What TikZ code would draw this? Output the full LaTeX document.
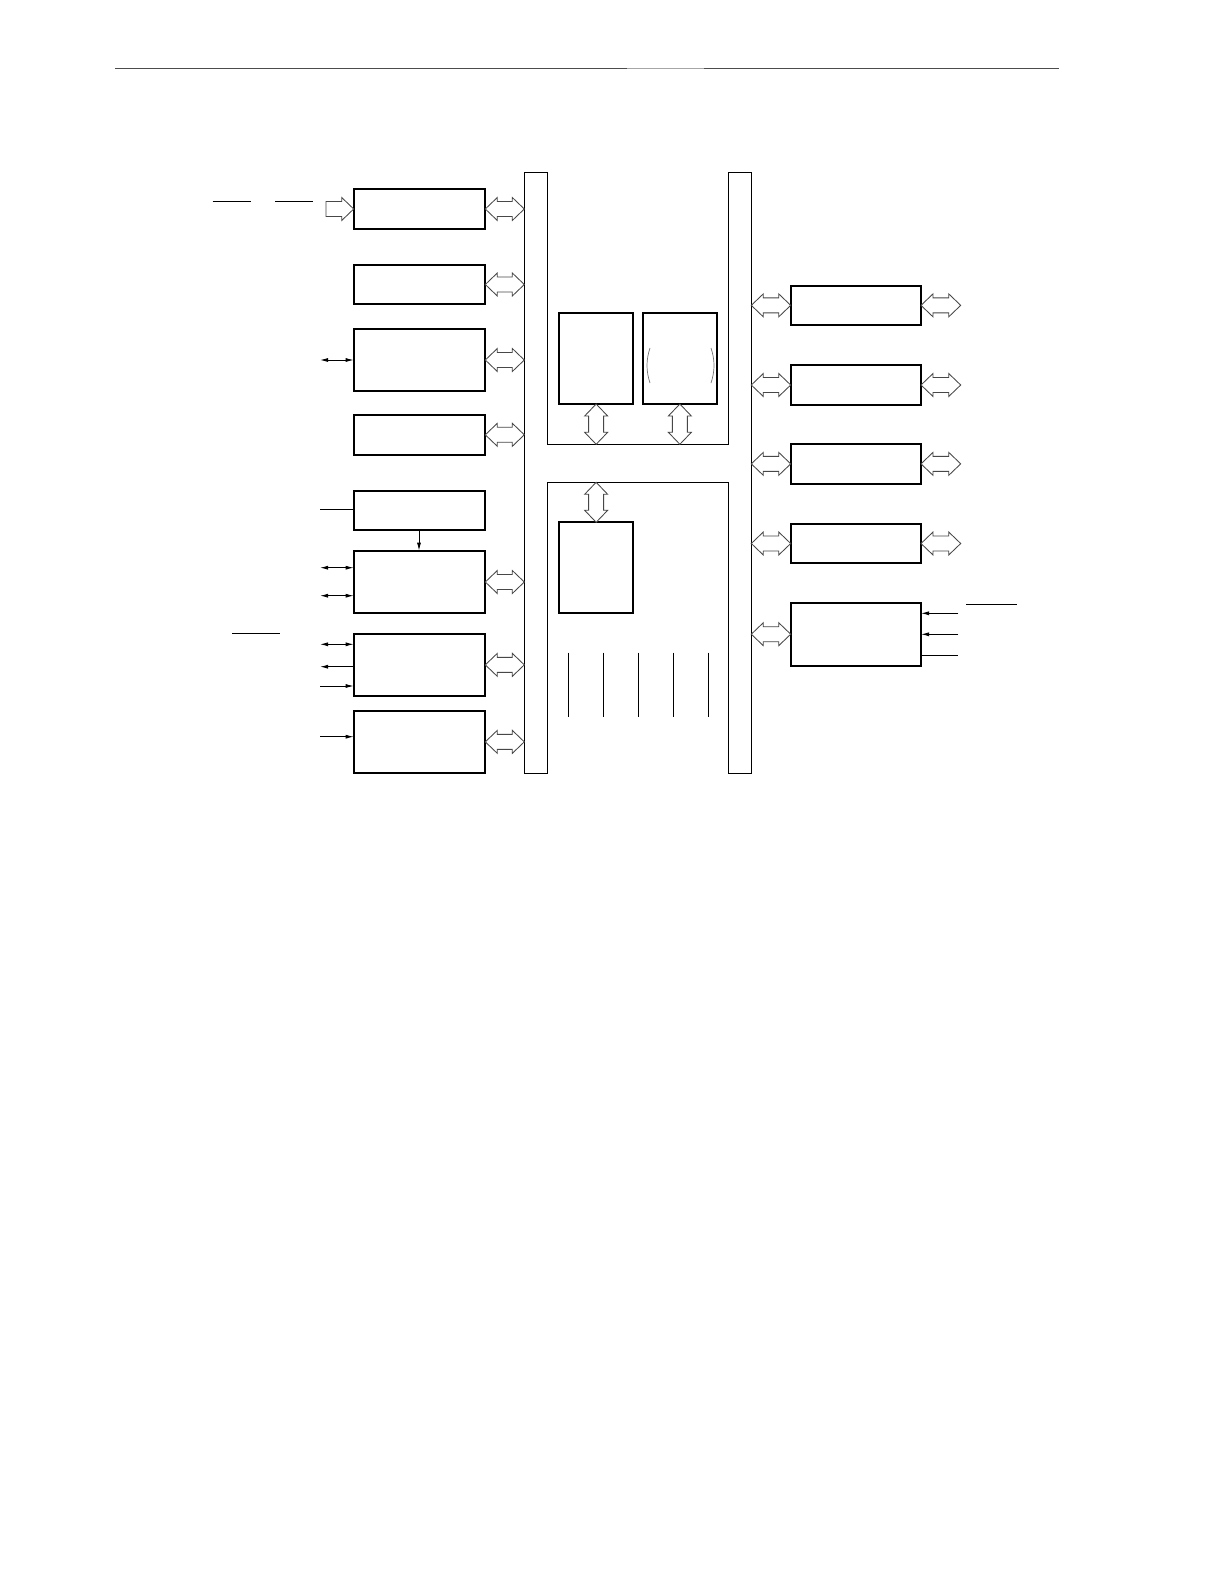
\documentclass[tikz,border=0pt]{standalone}
\usetikzlibrary{calc,arrows.meta}
\newcommand\hdbl[2]{\draw[barrow] let \p1=#1, \p2=#2 in
 (\x1,\y1) -- (\x1+12pt,\y1+11.5pt) -- (\x1+12pt,\y1+7.5pt) -- (\x2-12pt,\y1+7.5pt) -- (\x2-12pt,\y1+11.5pt) -- (\x2,\y1)
 -- (\x2-12pt,\y1-11.5pt) -- (\x2-12pt,\y1-7.5pt) -- (\x1+12pt,\y1-7.5pt) -- (\x1+12pt,\y1-11.5pt) -- cycle;}
\newcommand\vdbl[2]{\draw[barrow] let \p1=#1, \p2=#2 in
 (\x1,\y1) -- (\x1+11.5pt,\y1-12pt) -- (\x1+7.5pt,\y1-12pt) -- (\x1+7.5pt,\y2+12pt) -- (\x1+11.5pt,\y2+12pt) -- (\x1,\y2)
 -- (\x1-11.5pt,\y2+12pt) -- (\x1-7.5pt,\y2+12pt) -- (\x1-7.5pt,\y1-12pt) -- (\x1-11.5pt,\y1-12pt) -- cycle;}
\begin{document}
\begin{tikzpicture}[x=1pt,y=-1pt,
  lbox/.style={draw,line width=1.8pt,minimum width=131.6pt,minimum height=#1,anchor=north west,inner sep=0pt,outer sep=0pt},
  rbox/.style={draw,line width=1.8pt,minimum width=130.3pt,minimum height=#1,anchor=north west,inner sep=0pt,outer sep=0pt},
  cbox/.style={draw,line width=1.8pt,minimum width=74.3pt,minimum height=#1,anchor=north west,inner sep=0pt,outer sep=0pt},
  bus/.style={draw,line width=1pt},
  barrow/.style={draw=black!72,fill=white,line width=0.85pt,line join=miter},
  sig/.style={line width=0.9pt},
  tip/.style={-{Latex[length=8pt,width=4pt]}},
  dtip/.style={{Latex[length=8pt,width=4pt]}-{Latex[length=8pt,width=4pt]}},
  oline/.style={line width=0.9pt}]
\useasboundingbox (0,0) rectangle (1224,1584);
\fill[white] (0,0) rectangle (1224,1584);
% header rule
\draw[black!70,line width=1pt] (115,69) -- (627,69);
\draw[black!35,line width=1pt] (627,69) -- (704,69);
\draw[black!70,line width=1pt] (704,69) -- (1059,69);
% bus
\coordinate (busLo) at (524.3,0);
\coordinate (busRo) at (751.3,0);
\coordinate (Ubot) at (0,444.3);
\coordinate (Ltop) at (0,482.3);
\draw[bus] (524.3,172.3) -- (524.3,773.3) -- (547.5,773.3) -- (547.5,482.3) -- (728.3,482.3) -- (728.3,773.3)
  -- (751.3,773.3) -- (751.3,172.3) -- (728.3,172.3) -- (728.3,444.3) -- (547.5,444.3) -- (547.5,172.3) -- cycle;
% left boxes
\node[lbox=40pt] (L1) at (353.7,189) {};
\node[lbox=39.6pt] (L2) at (353.7,264.7) {};
\node[lbox=62pt] (L3) at (353.7,329) {};
\node[lbox=40pt] (L4) at (353.7,414.8) {};
\node[lbox=39pt] (L5) at (353.7,491) {};
\node[lbox=62.6pt] (L6) at (353.7,550.7) {};
\node[lbox=62.3pt] (L7) at (353.7,633.7) {};
\node[lbox=62.3pt] (L8) at (353.7,710.7) {};
% right boxes
\node[rbox=39.3pt] (R1) at (790.7,285.7) {};
\node[rbox=40pt] (R2) at (790.7,365) {};
\node[rbox=40.3pt] (R3) at (790.7,443.7) {};
\node[rbox=39.6pt] (R4) at (790.7,523.7) {};
\node[rbox=63pt] (R5) at (790.7,602.7) {};
% centre boxes
\node[cbox=91.3pt] (CA) at (559,312.7) {};
\node[cbox=91.3pt] (CB) at (642.7,312.7) {};
\node[cbox=90.7pt] (CC) at (559,522.3) {};
% parentheses in CB
\draw[black!55,line width=0.7pt] (650,348) .. controls (646,360) and (646,371) .. (650,383);
\draw[black!55,line width=0.7pt] (711,348) .. controls (715,360) and (715,371) .. (711,383);
% vertical lines
\foreach \xx in {568.7,603.3,638.3,673.3,708.3} \draw[sig] (\xx,652.7) -- (\xx,716.7);
% left block arrows
\foreach \b in {L1,L2,L3,L4,L6,L7,L8} {\hdbl{(\b.east)}{(\b.east -| busLo)}}
% right block arrows
\foreach \b in {R1,R2,R3,R4,R5} {\hdbl{(\b.west -| busRo)}{(\b.west)}}
\foreach \b in {R1,R2,R3,R4} {\hdbl{(\b.east)}{($(\b.east)+(39.7,0)$)}}
% vertical block arrows
\vdbl{(CA.south)}{(CA.south |- Ubot)}
\vdbl{(CB.south)}{(CB.south |- Ubot)}
\vdbl{(CC.north |- Ltop)}{(CC.north)}
% L1 input block arrow
\coordinate (in1) at (326,209);
\draw[barrow] let \p1=(in1), \p2=(L1.west) in
  (\x1,\y1+7.5pt) -- (\x2-12pt,\y1+7.5pt) -- (\x2-12pt,\y1+11.5pt) -- (\x2,\y1) -- (\x2-12pt,\y1-11.5pt)
  -- (\x2-12pt,\y1-7.5pt) -- (\x1,\y1-7.5pt) -- cycle;
% overlines
\draw[oline] (212.7,201) -- (250.7,201);
\draw[oline] (275,201) -- (312.7,201);
\draw[oline] (232,633.3) -- (280,633.3);
\draw[oline] (966,604) -- (1016.7,604);
% thin signal arrows, left side
\coordinate (s3) at (320,360);
\draw[sig,dtip] (s3) -- (s3 -| L3.west);
\coordinate (s5) at (320,509.3);
\draw[sig] (s5) -- (s5 -| L5.west);
\draw[sig,tip] (L5.south -| 419,0) -- (L6.north -| 419,0);
\coordinate (s6a) at (320,567.7);
\coordinate (s6b) at (320,595.7);
\draw[sig,dtip] (s6a) -- (s6a -| L6.west);
\draw[sig,dtip] (s6b) -- (s6b -| L6.west);
\coordinate (s7a) at (320,644.3);
\coordinate (s7b) at (320,666.7);
\coordinate (s7c) at (320,686);
\draw[sig,dtip] (s7a) -- (s7a -| L7.west);
\draw[sig,tip] (s7b -| L7.west) -- (s7b);
\draw[sig,tip] (s7c) -- (s7c -| L7.west);
\coordinate (s8) at (320,736.7);
\draw[sig,tip] (s8) -- (s8 -| L8.west);
% right side of R5
\coordinate (r5a) at (958.3,613.3);
\coordinate (r5b) at (958.3,634.3);
\coordinate (r5c) at (958.3,655.7);
\draw[sig,tip] (r5a) -- (r5a -| R5.east);
\draw[sig,tip] (r5b) -- (r5b -| R5.east);
\draw[sig] (r5c -| R5.east) -- (r5c);
\end{tikzpicture}
\end{document}
